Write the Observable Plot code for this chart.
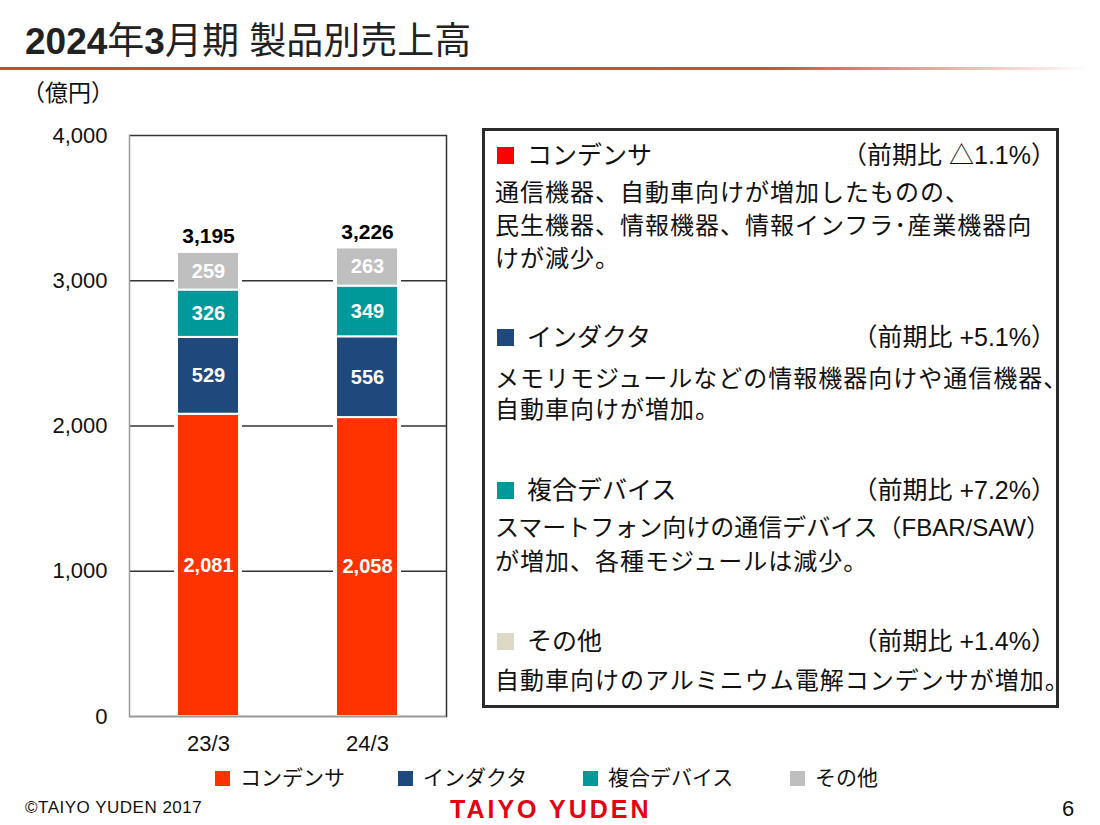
<!DOCTYPE html>
<html><head><meta charset="utf-8">
<script src="https://cdn.jsdelivr.net/npm/d3@7"></script>
<script src="https://cdn.jsdelivr.net/npm/@observablehq/plot@0.6"></script>
<style>
body{margin:0;background:#fff;}
#page{position:relative;width:1100px;height:825px;overflow:hidden;background:#fff;font-family:"Liberation Sans","Noto Sans CJK JP",sans-serif;color:#111;}
.abs{position:absolute;white-space:nowrap;}
#chart{position:absolute;left:0;top:80px;}
</style></head><body><div id="page"><div id="chart"></div></div>
<script>
// ---- data ----
const periods = ["23/3", "24/3"];
const categories = ["コンデンサ", "インダクタ", "複合デバイス", "その他"];
const condenser = [2081, 2058];
const inductor = [529, 556];
const composite = [326, 349];
const other = [259, 263];
const totals = [3195, 3226];
const yTicks = [0, 1000, 2000, 3000, 4000];
const gridValues = [1000, 2000, 3000];
const barColors = ["#FF3300", "#1F497D", "#009999", "#BFBFBF"];
const boxColors = ["#FF0000", "#1F497D", "#009999", "#DDD9C4"];
const changes = ["（前期比 △1.1%）", "（前期比 +5.1%）", "（前期比 +7.2%）", "（前期比 +1.4%）"];
const descriptions = [
  ["通信機器、自動車向けが増加したものの、", "民生機器、情報機器、情報インフラ･産業機器向", "けが減少。"],
  ["メモリモジュールなどの情報機器向けや通信機器、", "自動車向けが増加。"],
  ["スマートフォン向けの通信デバイス（FBAR/SAW）", "が増加、各種モジュールは減少。"],
  ["自動車向けのアルミニウム電解コンデンサが増加。"]
];
const titleText = "2024年3月期 製品別売上高";
const unitText = "（億円）";
const copyright = "©TAIYO YUDEN 2017";
const logoText = "TAIYO YUDEN";
const pageNo = "6";

// ---- derived rows ----
const series = [condenser, inductor, composite, other];
const rows = [];
periods.forEach((p, i) => {
  let acc = 0;
  categories.forEach((c, j) => {
    const v = series[j][i];
    rows.push({period: p, cat: c, value: v, y1: acc, y2: acc + v, mid: acc + v / 2});
    acc += v;
  });
});
const totalRows = periods.map((p, i) => ({period: p, total: totals[i]}));
const fmt = d3.format(",");

const chart = Plot.plot({
  width: 470, height: 680,
  marginLeft: 129, marginRight: 24, marginTop: 55, marginBottom: 44,
  x: {domain: periods, paddingInner: 0.61, paddingOuter: 0.3, label: null},
  y: {domain: [0, 4000], label: null},
  color: {domain: categories, range: barColors},
  style: {fontFamily: "'Liberation Sans','Noto Sans CJK JP',sans-serif", fontSize: "20px", background: "transparent", color: "#111", overflow: "visible"},
  marks: [
    Plot.ruleY(gridValues, {stroke: "#333", strokeWidth: 1.3}),
    Plot.ruleY([4000], {stroke: "#333", strokeWidth: 1.3}),
    Plot.frame({anchor: "right", stroke: "#333", strokeWidth: 1.5}),
    Plot.frame({anchor: "left", stroke: "#9a9a9a", strokeWidth: 1.5}),
    Plot.barY(totalRows, {x: "period", y: "total", fill: "white", stroke: "white", strokeWidth: 6}),
    Plot.barY(rows, {x: "period", y1: "y1", y2: "y2", fill: "cat", stroke: "white", strokeWidth: 2}),
    Plot.ruleY([0], {stroke: "#9a9a9a", strokeWidth: 2}),
    Plot.text(rows, {x: "period", y: "mid", text: d => fmt(d.value), fill: "white", fontWeight: "bold", fontSize: 20}),
    Plot.text(totalRows, {x: "period", y: "total", text: d => fmt(d.total), dy: -16, fill: "#000", fontWeight: "bold", fontSize: 21}),
    Plot.axisY({ticks: yTicks, tickFormat: fmt, tickSize: 0, tickPadding: 22, fontSize: 22, label: null}),
    Plot.axisX({tickSize: 0, tickPadding: 19, fontSize: 22, label: null})
  ]
});
document.getElementById("chart").appendChild(chart);

// ---- HTML parts ----
const page = document.getElementById("page");
function put(html, css) {
  const d = document.createElement("div");
  d.className = "abs";
  d.innerHTML = html;
  Object.assign(d.style, css);
  page.appendChild(d);
  return d;
}
function box(css) {
  const d = document.createElement("div");
  d.style.position = "absolute";
  Object.assign(d.style, css);
  page.appendChild(d);
  return d;
}

// title
put(titleText.replace("2024", "<b>2024</b>").replace("年3", "年<b>3</b>"),
  {left: "25px", top: "20px", fontSize: "37px", lineHeight: "44px", color: "#222"});
box({left: "0px", top: "67px", width: "1100px", height: "3px",
  background: "linear-gradient(to right, #CF4B28 0%, #D05030 70%, rgba(220,120,100,0.5) 88%, rgba(255,255,255,0) 99%)"});

// unit
put(unitText, {left: "22px", top: "79px", fontSize: "23px", lineHeight: "28px", color: "#111"});

// right box
box({left: "482px", top: "128px", width: "571px", height: "574px", border: "3px solid #2b2b2b", background: "#fff"});
const headingY = [155, 337, 490, 641];
const bodyY = [[193, 226, 259], [379, 410], [528, 562], [681]];
categories.forEach((c, i) => {
  box({left: "497px", top: (headingY[i] - 8) + "px", width: "17px", height: "17px", background: boxColors[i]});
  put(c, {left: "527px", top: (headingY[i] - 16) + "px", fontSize: "25px", lineHeight: "32px", color: "#111"});
  put(changes[i], {right: "44px", top: (headingY[i] - 16) + "px", fontSize: "25px", lineHeight: "32px", color: "#111"});
  descriptions[i].forEach((line, k) => {
    const hasLatin = /[A-Z]/.test(line);
    put(line, {left: "495px", top: (bodyY[i][k] - 15) + "px", fontSize: "24px", lineHeight: "30px", color: "#111", letterSpacing: hasLatin ? "0px" : "1px"});
  });
});

// bottom legend
const legendX = [215, 398, 583, 790];
categories.forEach((c, i) => {
  box({left: legendX[i] + "px", top: "771px", width: "15px", height: "15px", background: barColors[i]});
  put(c, {left: (legendX[i] + 25) + "px", top: "764px", fontSize: "21px", lineHeight: "28px", color: "#111"});
});

// footer
put(copyright, {left: "25px", top: "797px", fontSize: "17px", lineHeight: "22px", color: "#111", letterSpacing: "0.5px"});
put(logoText, {left: "450px", top: "795px", fontSize: "25px", lineHeight: "28px", fontWeight: "bold", color: "#E60012", letterSpacing: "3px"});
put(pageNo, {left: "1062px", top: "795px", fontSize: "22px", lineHeight: "28px", color: "#111"});
</script></body></html>
